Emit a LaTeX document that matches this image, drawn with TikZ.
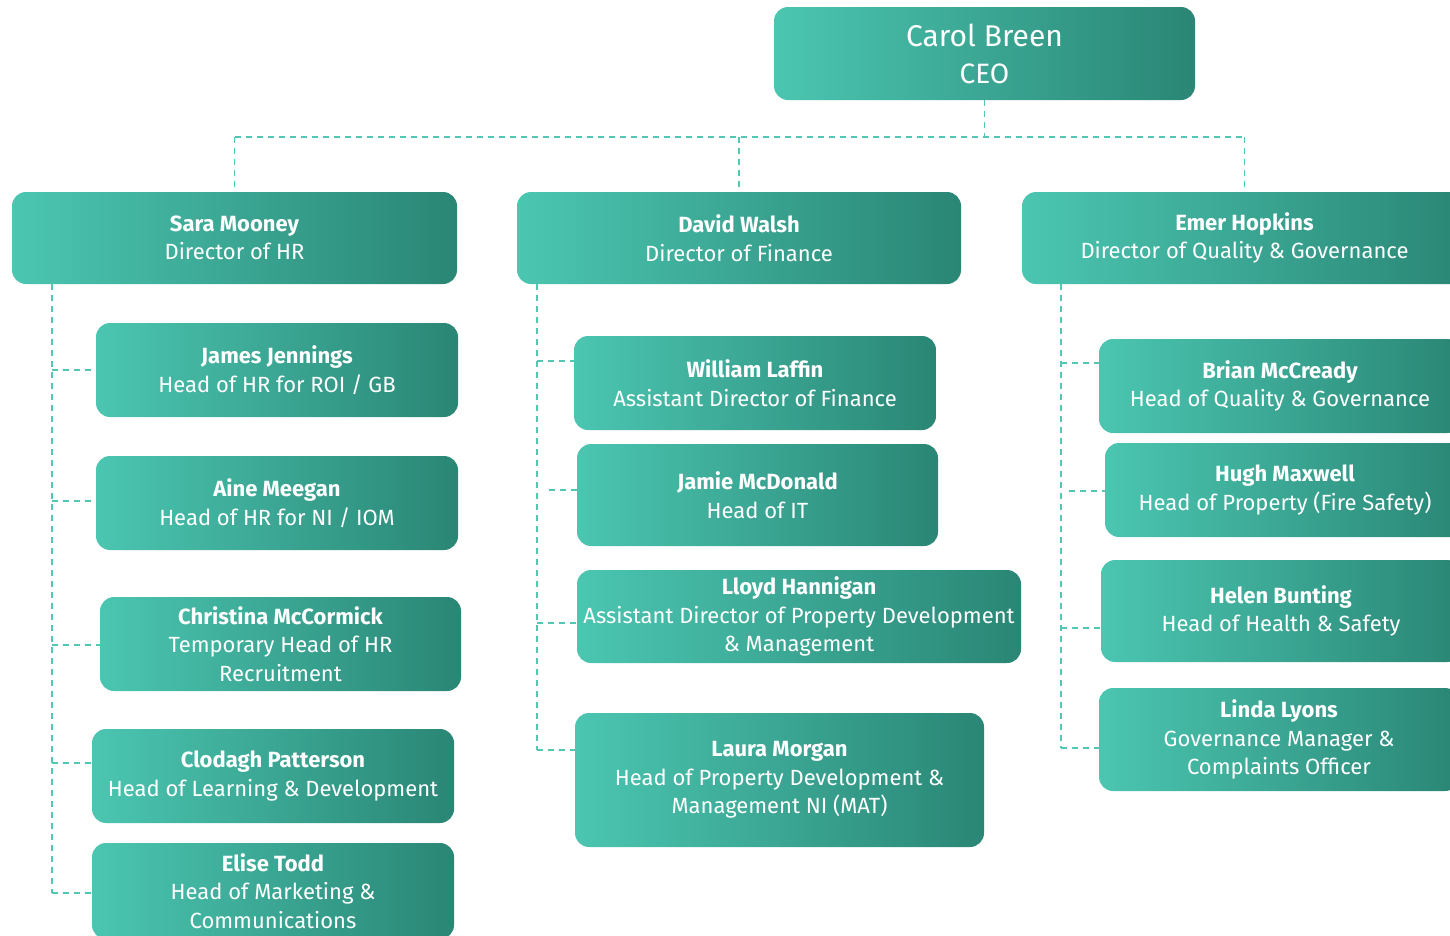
\documentclass[tikz,border=0pt]{standalone}
\usepackage{fontspec}
\setmainfont{Fira Sans}
\definecolor{tealL}{HTML}{4BC6B1}
\definecolor{tealR}{HTML}{2A8675}
\definecolor{lineC}{HTML}{52C7B4}
\tikzset{
  box/.style={rectangle, rounded corners=14pt, left color=tealL, right color=tealR,
    draw=none, text=white, align=center, inner sep=0pt,
    font=\fontsize{22}{28.5}\selectfont},
  link/.style={draw=lineC, line width=1.3pt, dash pattern=on 6pt off 5pt}
}
\newcommand{\nm}[1]{{\bfseries #1}}
\begin{document}
\begin{tikzpicture}[x=1pt,y=-1pt]
\useasboundingbox (0,0) rectangle (1450,935);
\clip (0,0) rectangle (1450,935);
% top
\node[box, minimum width=421, minimum height=93, font=\fontsize{30}{38}\selectfont] (ceo) at (984.5,53.5) {Carol Breen\\[-1pt]{\fontsize{28}{38}\selectfont CEO}};
% directors
\node[box, minimum width=445, minimum height=92] (sara) at (234.5,238) {\nm{Sara Mooney}\\Director of HR};
\node[box, minimum width=444, minimum height=92] (david) at (739,238) {\nm{David Walsh}\\Director of Finance};
\node[box, minimum width=445, minimum height=92] (emer) at (1244.5,238) {\nm{Emer Hopkins}\\Director of Quality \& Governance};
% HR
\node[box, minimum width=362, minimum height=94] (james) at (277,370) {\nm{James Jennings}\\Head of HR for ROI / GB};
\node[box, minimum width=362, minimum height=94] (aine) at (277,503) {\nm{Aine Meegan}\\Head of HR for NI / IOM};
\node[box, minimum width=361, minimum height=94] (christina) at (280.5,644) {\nm{Christina McCormick}\\Temporary Head of HR\\Recruitment};
\node[box, minimum width=362, minimum height=94] (clodagh) at (273,776) {\nm{Clodagh Patterson}\\Head of Learning \& Development};
\node[box, minimum width=362, minimum height=96] (elise) at (273,891) {\nm{Elise Todd}\\Head of Marketing \&\\Communications};
% Finance
\node[box, minimum width=362, minimum height=94] (william) at (755,383) {\nm{William Laffin}\\Assistant Director of Finance};
\node[box, minimum width=361, minimum height=102] (jamie) at (757.5,495) {\nm{Jamie McDonald}\\Head of IT};
\node[box, minimum width=444, minimum height=93] (lloyd) at (799,616.5) {\nm{Lloyd Hannigan}\\Assistant Director of Property Development\\\& Management};
\node[box, minimum width=409, minimum height=134] (laura) at (779.5,780) {\nm{Laura Morgan}\\Head of Property Development \&\\Management NI (MAT)};
% Quality
\node[box, minimum width=362, minimum height=94] (brian) at (1280,386) {\nm{Brian McCready}\\Head of Quality \& Governance};
\node[box, minimum width=360, minimum height=94] (hugh) at (1285,490) {\nm{Hugh Maxwell}\\Head of Property (Fire Safety)};
\node[box, minimum width=360, minimum height=102] (helen) at (1281,611) {\nm{Helen Bunting}\\Head of Health \& Safety};
\node[box, minimum width=360, minimum height=103] (linda) at (1279,739.5) {\nm{Linda Lyons}\\Governance Manager \&\\Complaints Officer};
% top connectors
\coordinate (bus) at (984.5,137);
\draw[link] (ceo.south) -- (bus);
\draw[link] (sara.north |- bus) -- (emer.north |- bus);
\draw[link] (sara.north |- bus) -- (sara.north);
\draw[link] (david.north |- bus) -- (david.north);
\draw[link] (emer.north |- bus) -- (emer.north);
% HR spine
\coordinate (h0) at (52,284);
\coordinate (h1) at (52,370);
\coordinate (h2) at (52,501);
\coordinate (h3) at (52,645);
\coordinate (h4) at (52,763);
\coordinate (h5) at (52,893);
\draw[link] (h0) -- (h5);
\draw[link] (h1) -- (h1 -| james.west);
\draw[link] (h2) -- (h2 -| aine.west);
\draw[link] (h3) -- (h3 -| christina.west);
\draw[link] (h4) -- (h4 -| clodagh.west);
\draw[link] (h5) -- (h5 -| elise.west);
% Finance spine
\coordinate (f0) at (537,284);
\coordinate (f1) at (537,361);
\coordinate (f2) at (549,490);
\coordinate (f3) at (537,623);
\coordinate (f4) at (537,750);
\draw[link] (f0) -- (f4);
\draw[link] (f1) -- (f1 -| william.west);
\draw[link] (f2) -- (f2 -| jamie.west);
\draw[link] (f3) -- (f3 -| lloyd.west);
\draw[link] (f4) -- (f4 -| laura.west);
% Quality spine
\coordinate (q0) at (1061,284);
\coordinate (q1) at (1061,363);
\coordinate (q2) at (1069,491);
\coordinate (q3) at (1061,628);
\coordinate (q4) at (1061,748);
\draw[link] (q0) -- (q4);
\draw[link] (q1) -- (q1 -| brian.west);
\draw[link] (q2) -- (q2 -| hugh.west);
\draw[link] (q3) -- (q3 -| helen.west);
\draw[link] (q4) -- (q4 -| linda.west);
\end{tikzpicture}
\end{document}
